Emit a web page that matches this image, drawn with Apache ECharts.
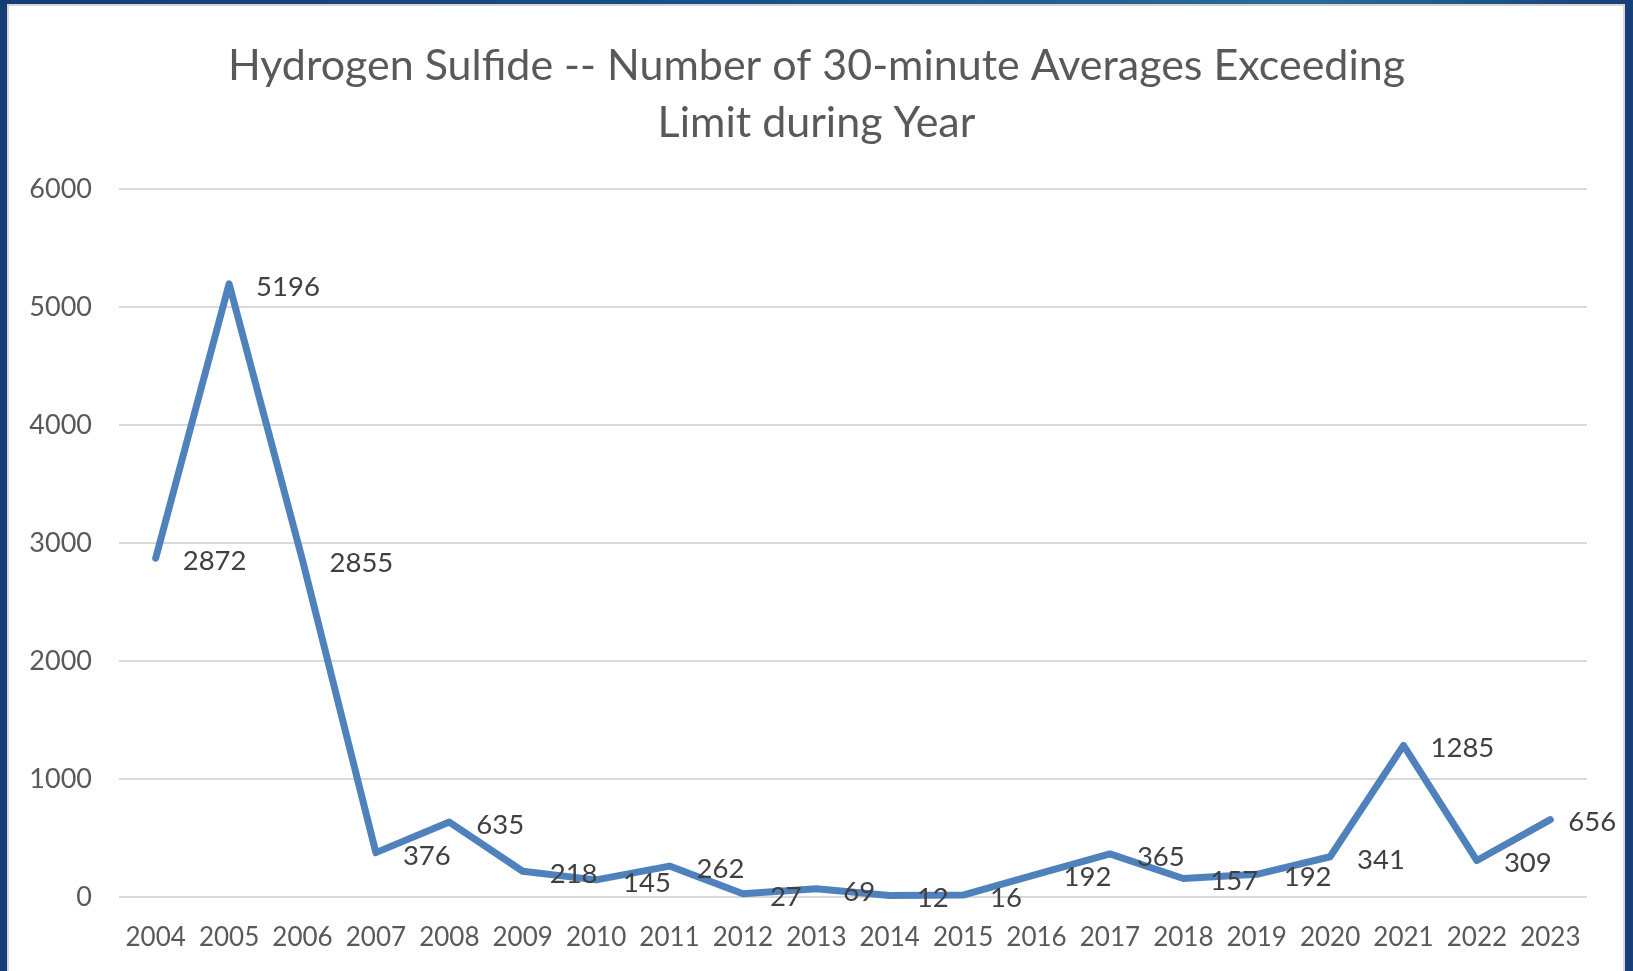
<!DOCTYPE html>
<html>
<head>
<meta charset="utf-8">
<script src="https://cdn.jsdelivr.net/npm/echarts@6/dist/echarts.min.js"></script>
<style>
  html, body { margin: 0; padding: 0; width: 1633px; height: 971px; overflow: hidden; }
  body { background: linear-gradient(90deg, #143c76 0%, #1b4f87 45%, #2a6c9c 80%, #173f79 100%); position: relative; }
  #panel { position: absolute; left: 7px; top: 4px; width: 1614px; height: 970px; background: #fff; border: 2px solid #d6d6d6; border-bottom: none; }
  #main { position: absolute; left: 0; top: 0; width: 1633px; height: 971px; }
</style>
</head>
<body>
<div id="panel"></div>
<div id="main"></div>
<script>
var years = ['2004', '2005', '2006', '2007', '2008', '2009', '2010', '2011', '2012', '2013',
             '2014', '2015', '2016', '2017', '2018', '2019', '2020', '2021', '2022', '2023']
var counts = [2872, 5196, 2855, 376, 635, 218, 145, 262, 27, 69,
              12, 16, 192, 365, 157, 192, 341, 1285, 309, 656]
var yTicks = [0, 1000, 2000, 3000, 4000, 5000, 6000]

var chart = echarts.init(document.getElementById('main'))

var fontFam = 'Lato, "Open Sans", sans-serif'

// last label sits a bit closer so it stays inside the frame
var seriesData = counts.map(function (v, i) {
    if (i == counts.length - 1) {
        return { value: v, label: { distance: 17 } }
    }
    return v
})

var option = {
    backgroundColor: 'transparent',
    animation: false,
    title: {
        text: 'Hydrogen Sulfide -- Number of 30-minute Averages Exceeding\nLimit during Year',
        left: 'center',
        top: 33,
        textStyle: {
            fontFamily: fontFam,
            fontSize: 43,
            fontWeight: 'normal',
            color: '#595959',
            lineHeight: 57
        }
    },
    grid: {
        left: 119,
        right: 46,
        top: 189,
        bottom: 74
    },
    xAxis: {
        type: 'category',
        data: years,
        boundaryGap: true,
        axisLine: { show: false },
        axisTick: { show: false },
        axisLabel: {
            interval: 0,
            margin: 28,
            fontFamily: fontFam,
            fontSize: 26,
            color: '#595959'
        }
    },
    yAxis: {
        type: 'value',
        min: yTicks[0],
        max: yTicks[yTicks.length - 1],
        interval: 1000,
        axisLine: { show: false },
        axisTick: { show: false },
        splitLine: { lineStyle: { color: '#d9d9d9', width: 2 } },
        axisLabel: {
            margin: 27,
            fontFamily: fontFam,
            fontSize: 27,
            color: '#595959',
            formatter: function (v) { return String(v) }
        }
    },
    series: [{
        type: 'line',
        data: seriesData,
        symbol: 'circle',
        symbolSize: 2,
        showSymbol: true,
        showAllSymbol: true,
        itemStyle: { color: '#4f81bd' },
        lineStyle: { color: '#4f81bd', width: 7, join: 'round', cap: 'round' },
        label: {
            show: true,
            position: 'right',
            distance: 26,
            offset: [0, 3],
            fontFamily: fontFam,
            fontSize: 27.5,
            color: '#404040'
        }
    }]
}

chart.setOption(option)
</script>
</body>
</html>
